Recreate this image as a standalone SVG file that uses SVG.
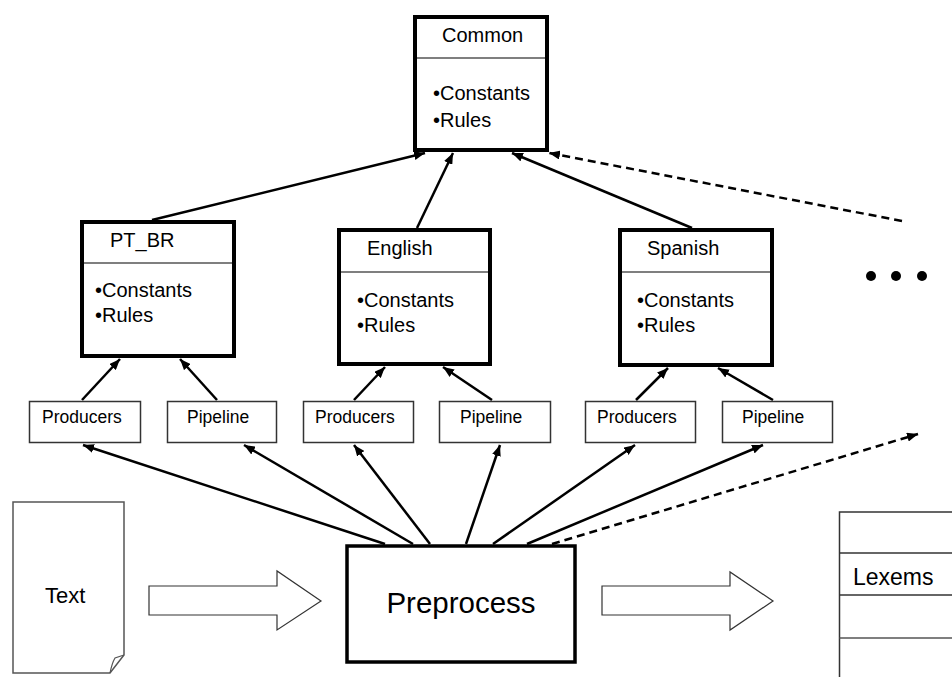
<svg xmlns="http://www.w3.org/2000/svg" width="952" height="677" viewBox="0 0 952 677">
  <style>
    text { font-family: "Liberation Sans", Arial, sans-serif; fill: #000; }
    .lang { fill: #fff; stroke: #000; stroke-width: 4; }
    .div { stroke: #555; stroke-width: 1.5; }
    .t20 { font-size: 20px; }
    .small { fill: #fff; stroke: #333; stroke-width: 1.5; }
    .t17 { font-size: 17.5px; }
    .edge { stroke: #000; stroke-width: 2.5; fill: none; marker-end: url(#ah); }
    .dash { stroke-dasharray: 8 5; }
    .block { fill: #fff; stroke: #333; stroke-width: 1.2; }
  </style>
  <defs>
    <marker id="ah" viewBox="0 0 11 9" refX="11" refY="4.5" markerWidth="11" markerHeight="9" markerUnits="userSpaceOnUse" orient="auto">
      <path d="M0,0 L11,4.5 L0,9 Z" fill="#000"/>
    </marker>
  </defs>
  <rect width="952" height="677" fill="#fff"/>

  <!-- shared base -->
  <g id="common">
    <rect class="lang" x="415" y="17" width="132" height="133"/>
    <line class="div" x1="417" y1="58" x2="545" y2="58"/>
    <text class="t20" x="442" y="42">Common</text>
    <text class="t20" x="433" y="100">•Constants</text>
    <text class="t20" x="433" y="127">•Rules</text>
  </g>

  <!-- language modules -->
  <g id="pt_br">
    <rect class="lang" x="82" y="222" width="152" height="134"/>
    <line class="div" x1="84" y1="263" x2="232" y2="263"/>
    <text class="t20" x="110" y="247">PT_BR</text>
    <text class="t20" x="95" y="297">•Constants</text>
    <text class="t20" x="95" y="322">•Rules</text>
  </g>
  <g id="english">
    <rect class="lang" x="339" y="230" width="151" height="134"/>
    <line class="div" x1="341" y1="272" x2="488" y2="272"/>
    <text class="t20" x="367" y="255">English</text>
    <text class="t20" x="357" y="307">•Constants</text>
    <text class="t20" x="357" y="332">•Rules</text>
  </g>
  <g id="spanish">
    <rect class="lang" x="620" y="230" width="152" height="135"/>
    <line class="div" x1="622" y1="272" x2="770" y2="272"/>
    <text class="t20" x="647" y="255">Spanish</text>
    <text class="t20" x="637" y="307">•Constants</text>
    <text class="t20" x="637" y="332">•Rules</text>
  </g>

  <g id="more">
    <circle cx="871" cy="276" r="5"/>
    <circle cx="896" cy="276" r="5"/>
    <circle cx="922" cy="276" r="5"/>
  </g>

  <!-- producers / pipelines -->
  <g id="pt_producers">
    <rect class="small" x="29.5" y="401.5" width="111" height="41"/>
    <text class="t17" x="42" y="423">Producers</text>
  </g>
  <g id="pt_pipeline">
    <rect class="small" x="167.5" y="401.5" width="109" height="41"/>
    <text class="t17" x="187" y="423">Pipeline</text>
  </g>
  <g id="en_producers">
    <rect class="small" x="303.5" y="401.5" width="110" height="41"/>
    <text class="t17" x="315" y="423">Producers</text>
  </g>
  <g id="en_pipeline">
    <rect class="small" x="439.5" y="401.5" width="111" height="41"/>
    <text class="t17" x="460" y="423">Pipeline</text>
  </g>
  <g id="es_producers">
    <rect class="small" x="585.5" y="401.5" width="110" height="41"/>
    <text class="t17" x="597" y="423">Producers</text>
  </g>
  <g id="es_pipeline">
    <rect class="small" x="722.5" y="401.5" width="110" height="41"/>
    <text class="t17" x="742" y="423">Pipeline</text>
  </g>

  <!-- input document -->
  <g id="text_doc">
    <path d="M13,502 H124 V655 L110,673 H13 Z" fill="#fff" stroke="#555" stroke-width="1.5"/>
    <path d="M110,673 Q112,663 115,658 L124,655" fill="none" stroke="#555" stroke-width="1.2"/>
    <text x="45" y="603" font-size="22">Text</text>
  </g>

  <g id="preprocess">
    <rect x="347" y="546" width="228" height="116" fill="#fff" stroke="#000" stroke-width="3.5"/>
    <text x="461" y="613" font-size="29.5" text-anchor="middle">Preprocess</text>
  </g>

  <!-- output table -->
  <g id="lexems">
    <path d="M952,512 H839.5 V677" fill="none" stroke="#333" stroke-width="1.5"/>
    <line x1="839.5" y1="553" x2="952" y2="553" stroke="#333" stroke-width="1.5"/>
    <line x1="839.5" y1="595" x2="952" y2="595" stroke="#333" stroke-width="1.5"/>
    <line x1="839.5" y1="638" x2="952" y2="638" stroke="#555" stroke-width="1.5"/>
    <text x="853" y="585" font-size="23">Lexems</text>
  </g>

  <!-- connectors -->
  <g id="connectors">
    <polygon class="block" points="149,586 277,586 277,571 321,601 277,630 277,615 149,615"/>
    <polygon class="block" points="602,586 730,586 730,572 773,601 730,630 730,615 602,615"/>

    <line class="edge" x1="385" y1="544" x2="83" y2="445"/>
    <line class="edge" x1="413" y1="544" x2="244" y2="445"/>
    <line class="edge" x1="430" y1="544" x2="354" y2="445"/>
    <line class="edge" x1="466" y1="544" x2="500" y2="445"/>
    <line class="edge" x1="493" y1="544" x2="635" y2="445"/>
    <line class="edge" x1="527" y1="544" x2="763" y2="445"/>
    <line class="edge dash" x1="552" y1="544" x2="918" y2="434"/>

    <line class="edge" x1="82" y1="400" x2="120" y2="359"/>
    <line class="edge" x1="217" y1="400" x2="180" y2="359"/>
    <line class="edge" x1="354" y1="400" x2="385" y2="367"/>
    <line class="edge" x1="492" y1="400" x2="443" y2="367"/>
    <line class="edge" x1="636" y1="400" x2="668" y2="368"/>
    <line class="edge" x1="773" y1="400" x2="718" y2="368"/>

    <line class="edge" x1="152" y1="220" x2="425" y2="153"/>
    <line class="edge" x1="417" y1="228" x2="453" y2="153"/>
    <line class="edge" x1="692" y1="228" x2="512" y2="153"/>
    <line class="edge dash" x1="902" y1="221" x2="549" y2="153"/>
  </g>
</svg>
